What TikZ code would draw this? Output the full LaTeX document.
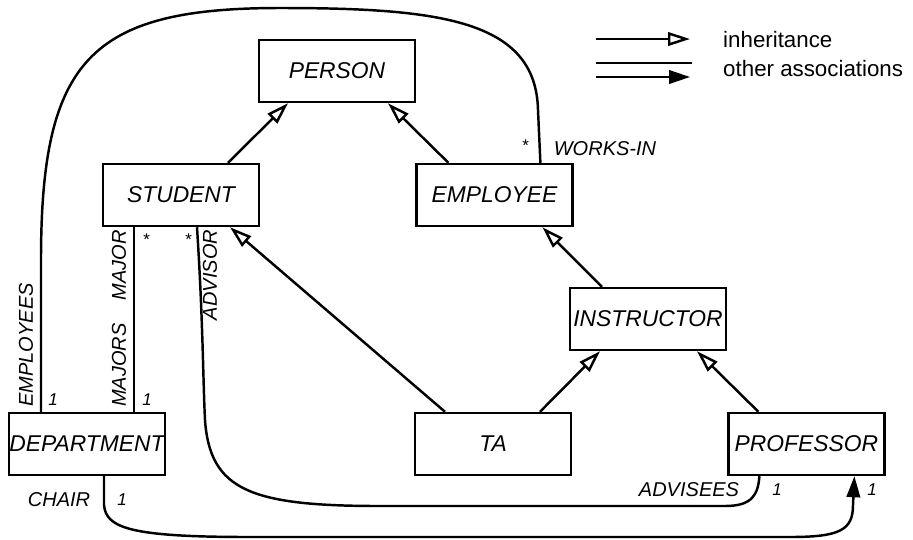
\documentclass[tikz,border=0pt]{standalone}
\usepackage{fontspec}
\setmainfont{Liberation Sans}
\usetikzlibrary{calc,
arrows.meta,
positioning}

\begin{document}
\begin{tikzpicture} [x=0.02cm,
    y=-0.02cm,
    line width=1.4pt,
    class node/.style={rectangle, draw, fill=white,
        minimum width=3.12cm, minimum height=1.24cm, inner sep=0pt,
        font=\itshape\fontsize{13}{15}\selectfont},
    role/.style={font=\itshape\fontsize{11.4}{13}\selectfont, inner sep=1pt},
    mult/.style={font=\itshape\fontsize{9.7}{11}\selectfont, inner sep=1pt},
    legend/.style={font=\fontsize{12.7}{15}\selectfont, inner sep=0pt, anchor=west},
    isa/.style={-{Triangle[open, length=0.44cm, width=0.27cm]}},
    assoc/.style={},
    assoc tip/.style={-{Triangle[length=0.42cm, width=0.27cm]}}
  ]

  \useasboundingbox (0,0) rectangle (913,539);

  \node [class node] (person) at (337, 71) {PERSON};

  \node [class node] (stud) at (181, 195) {STUDENT};

  \node [class node,
    right = 3.1cm of stud
  ] (empl) {EMPLOYEE};

  \node [class node] (instr) at (648, 319) {INSTRUCTOR};

  \node [class node] (dept) at (87, 444) {DEPARTMENT};

  \node [class node] (ta) at (493, 444) {TA};

  \node [class node,
    right = 3.1cm of ta
  ] (prof) {PROFESSOR};

  %%%%%%%%%%%%%%%%%%%%%%%%%%%%%%

  \draw [isa] ($(stud.north)+(47,0)$) -- ($(person.south)+(-49,0)$);
  \draw [isa] ($(empl.north)+(-46,0)$) -- ($(person.south)+(51,0)$);
  \draw [isa] ($(instr.north)+(-46,0)$) -- ($(empl.south)+(48,0)$);
  \draw [isa] ($(ta.north)+(-48,0)$) -- ($(stud.south)+(49,0)$);
  \draw [isa] ($(ta.north)+(47,0)$) -- ($(instr.south)+(-48,0)$);
  \draw [isa] ($(prof.north)+(-48,0)$) -- ($(instr.south)+(49,0)$);

  %%%%%%%%%%%%%%%%%%%%%%%%%%%%%%

  \draw [assoc] ($(dept.north)+(-46,0)$) -- (41,260)
  .. controls (41,60) and (90,8) .. (280,8)
  .. controls (440,8) and (536,20) .. (538,110)
  -- ($(empl.north)+(46,0)$);
  \draw [assoc] ($(stud.south)+(-47,0)$) -- ($(dept.north)+(47,0)$);
  \draw [assoc] ($(stud.south)+(16,0)$)
  .. controls (203,320) and (203,380) .. (205,420)
  .. controls (210,490) and (250,506) .. (380,506) -- (725,506)
  .. controls (752,506) and (758,495) .. ($(prof.south)+(-47,0)$);
  \draw [assoc, assoc tip] ($(dept.south)+(17,0)$) -- (104,505)
  .. controls (106,528) and (130,537) .. (250,537) -- (790,537)
  .. controls (840,537) and (853,530) .. (853,505)
  -- ($(prof.south)+(48,0)$);

  \node [mult] (wstar) at (525,146) {*};
  \node [role] (worksin) at (605,149) {WORKS-IN};
  \node [role, rotate=90] (emps) at (26,345) {EMPLOYEES};
  \node [mult] (deptone) at (53,400) {1};
  \node [role, rotate=90] (majors) at (119,365) {MAJORS};
  \node [role, rotate=90] (major) at (119,265) {MAJOR};
  \node [mult] (mstar) at (146,240) {*};
  \node [mult] (mone) at (147,400) {1};
  \node [mult] (astar) at (188,240) {*};
  \node [role, rotate=90] (advisor) at (210,275) {ADVISOR};
  \node [role] (chair) at (59,500) {CHAIR};
  \node [mult] (chone) at (122,500) {1};
  \node [role] (advisees) at (689,490) {ADVISEES};
  \node [mult] (adone) at (777,490) {1};
  \node [mult] (profone) at (872,490) {1};

  %%%%%%%%%%%%%%%%%%%%%%%%%%%%%%

  \coordinate (inhstart) at (596,39);
  \coordinate (inhend) at (690,39);
  \coordinate (assstart) at (596,63);
  \coordinate (assend) at (692,63);
  \coordinate (tipstart) at (596,77);
  \coordinate (tipend) at (690,77);
  \draw [isa] (inhstart) -- (inhend);
  \draw [assoc] (assstart) -- (assend);
  \draw [assoc, assoc tip] (tipstart) -- (tipend);
  \node [legend] (leginh) at (722,40) {inheritance};
  \node [legend] (legassoc) at (722,69) {other associations};

\end{tikzpicture}
\end{document}
